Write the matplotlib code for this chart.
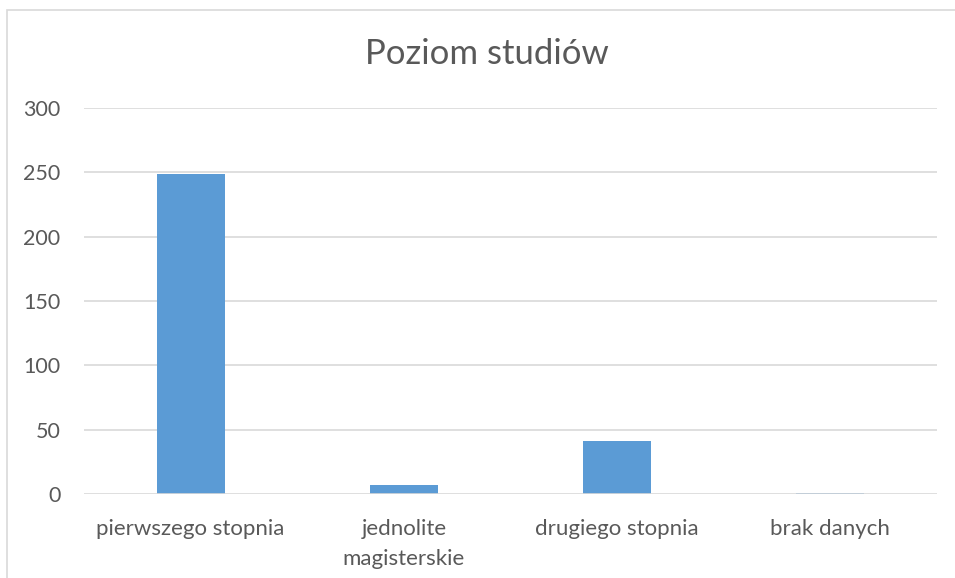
import matplotlib
matplotlib.use("Agg")
import matplotlib.pyplot as plt
from matplotlib.patches import Rectangle

categories = ["pierwszego stopnia", "jednolite\nmagisterskie", "drugiego stopnia", "brak danych"]
values = [249, 7, 41, 1]
yticks = [0, 50, 100, 150, 200, 250, 300]
title = "Poziom studiów"

plt.rcParams['font.family'] = ['Lato', 'DejaVu Sans']
TXT = '#595959'
GRID = '#D9D9D9'
BAR = '#5B9BD5'

W, H = 955, 578
fig = plt.figure(figsize=(W / 100, H / 100), dpi=100)
fig.patch.set_facecolor('white')

# chart outer border (only top and left visible)
fig.add_artist(Rectangle((7 / W, -0.05), 1.2, 1 - 9.5 / H + 0.05, transform=fig.transFigure,
                         fill=False, edgecolor=GRID, linewidth=1.2))

left, right = 84 / W, 937 / W
bottom, top = 1 - 494 / H, 1 - 108 / H
ax = fig.add_axes([left, bottom, right - left, top - bottom])

x = list(range(len(categories)))
ax.bar(x, values, width=0.32, color=BAR, zorder=2)
ax.set_xlim(-0.5, len(categories) - 0.5)
ax.set_ylim(0, 300)
ax.set_yticks(yticks)
ax.set_yticklabels([str(v) for v in yticks])
for v in yticks:
    ax.axhline(v, color=GRID, linewidth=1.2, zorder=1 if v else 3)

ax.set_xticks(x)
ax.set_xticklabels(categories, linespacing=1.6)
for s in ax.spines.values():
    s.set_visible(False)
ax.tick_params(axis='y', length=0, pad=17, labelsize=15.5, labelcolor=TXT)
ax.tick_params(axis='x', length=0, pad=18, labelsize=16, labelcolor=TXT)
for lbl in ax.get_xticklabels():
    lbl.set_verticalalignment('top')
    lbl.set_horizontalalignment('center')

fig.text(487 / W, 1 - 54 / H, title, ha='center', va='center', fontsize=25, color=TXT)

fig.savefig('out.png', dpi=100, facecolor='white')
